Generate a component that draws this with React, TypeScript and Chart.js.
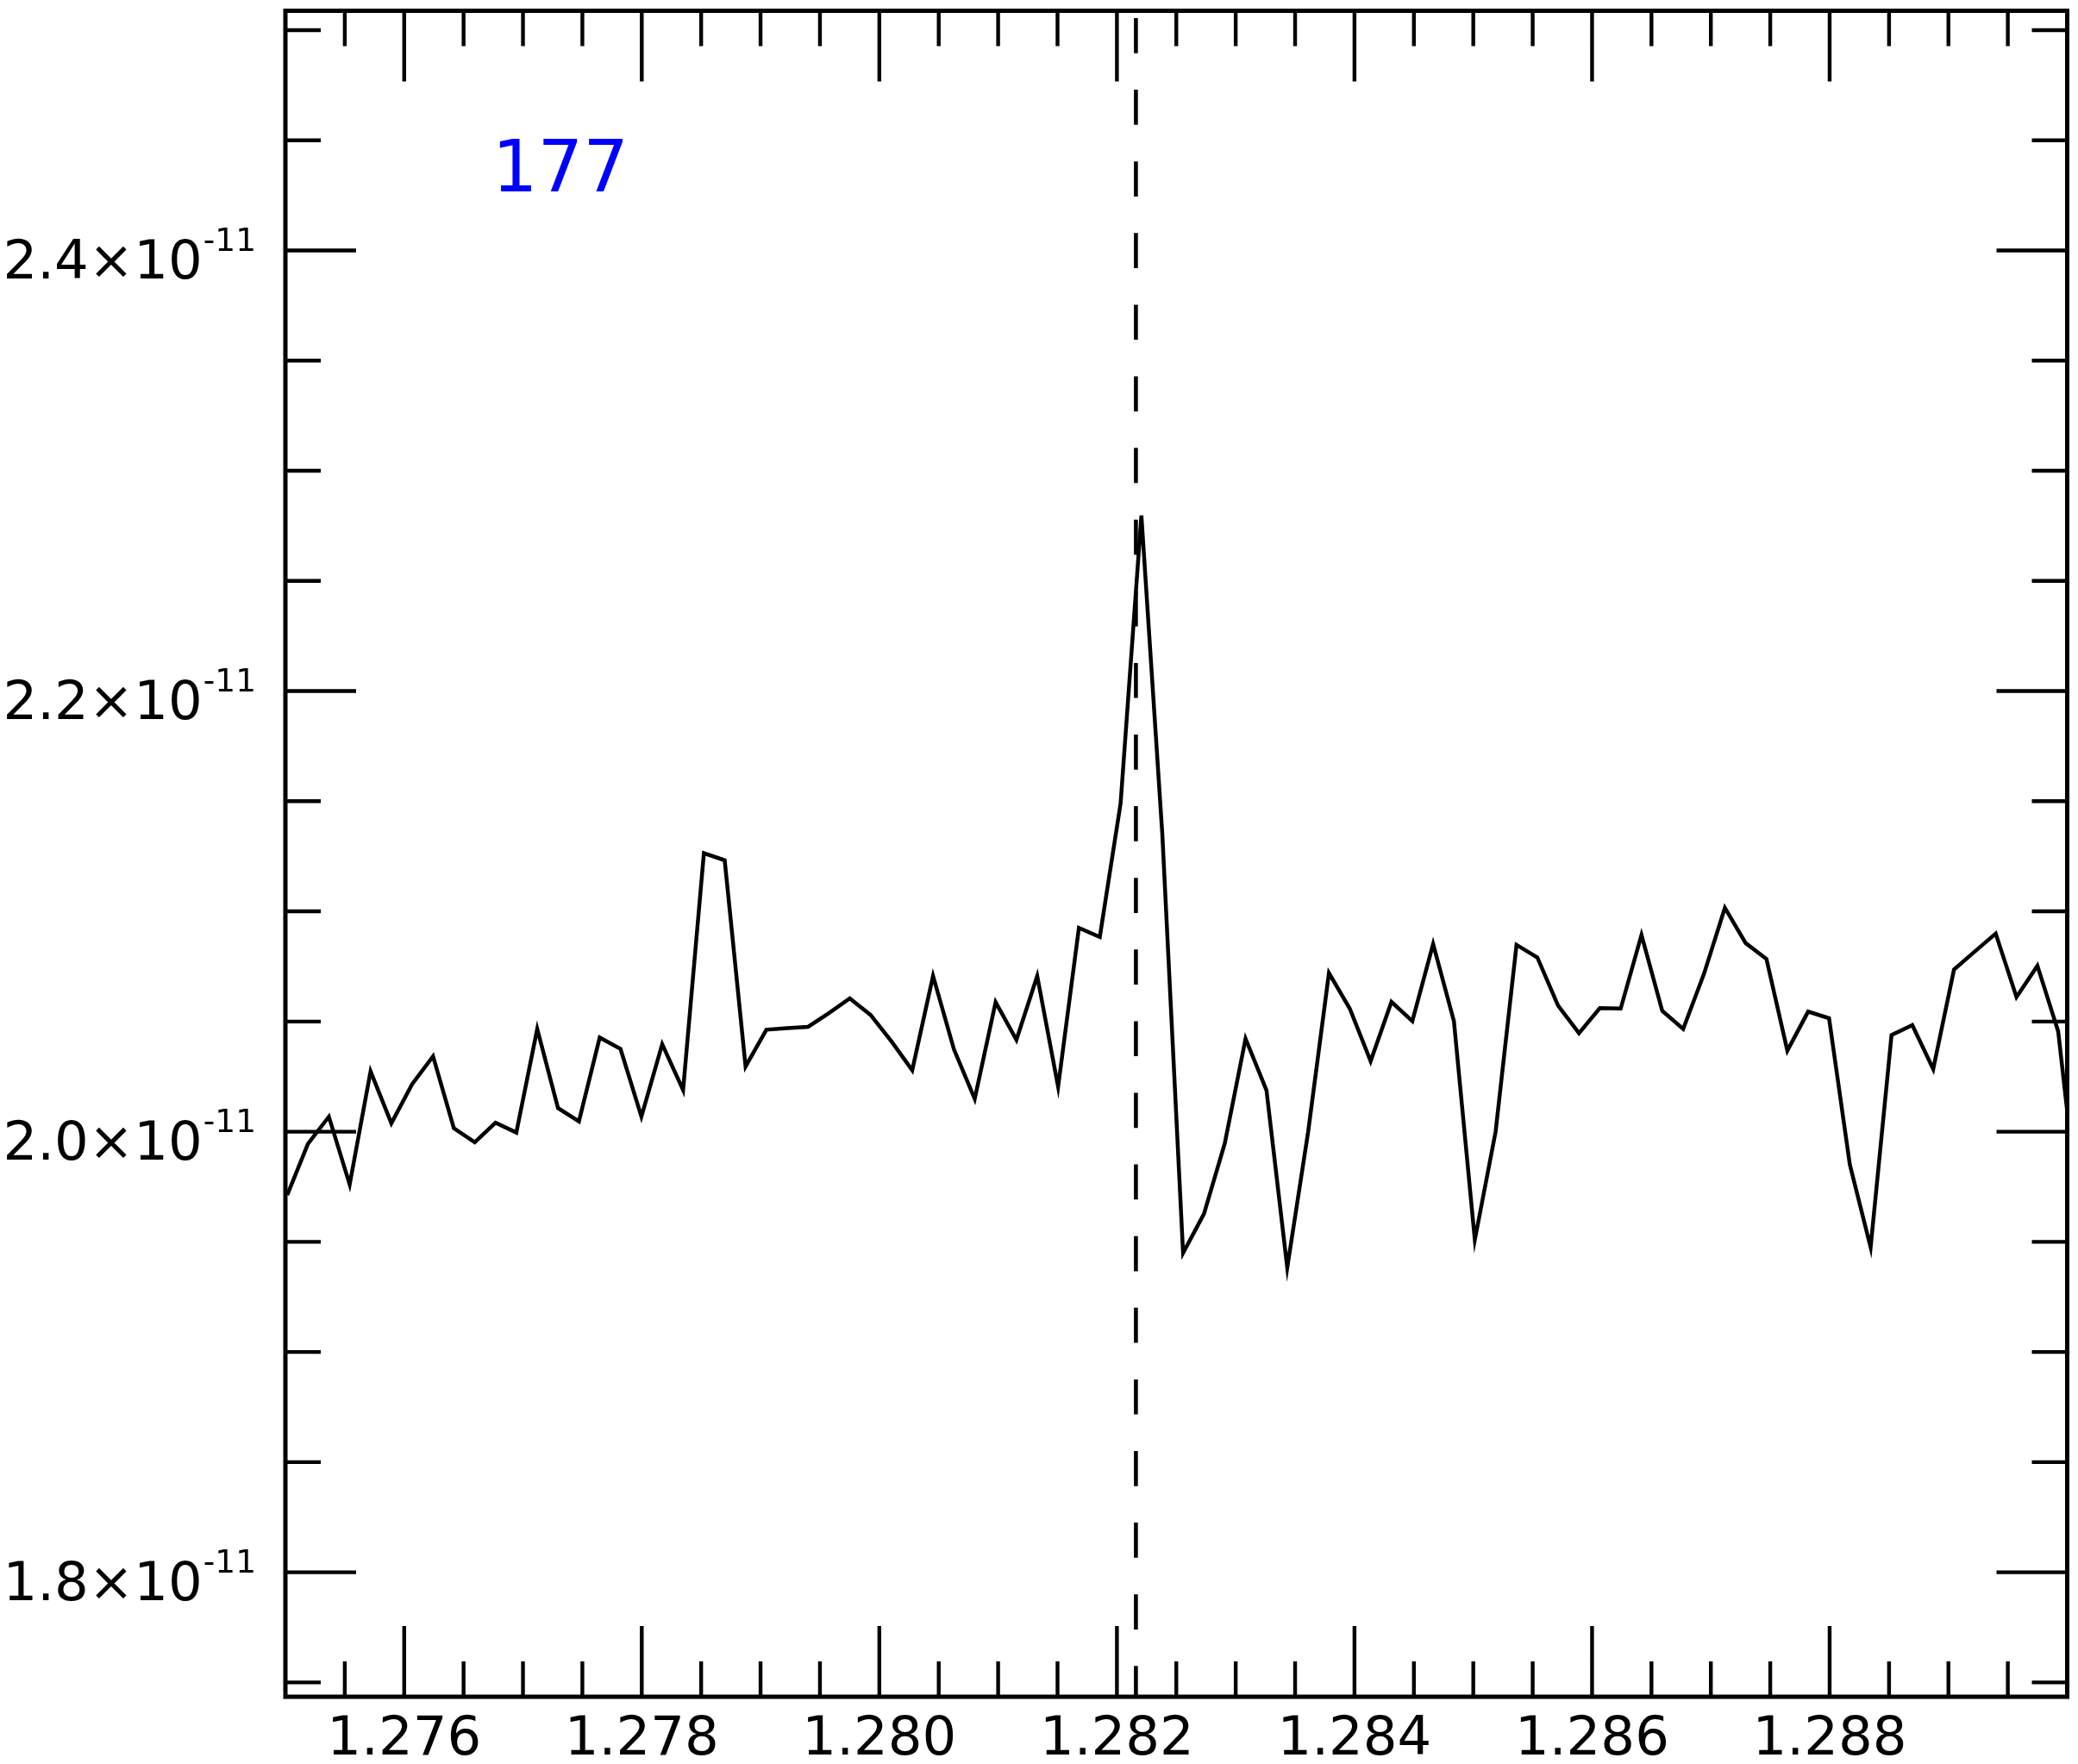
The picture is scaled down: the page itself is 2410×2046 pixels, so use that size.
import React, { useEffect, useRef } from "react";
import { Chart, registerables } from "chart.js";

Chart.register(...registerables);

// Wavelength (micron) of each sample
const wavelengths = [
  1.275015, 1.27519, 1.275366, 1.275541, 1.275717, 1.275892, 1.276067, 1.276243, 1.276418, 1.276594,
  1.276769, 1.276944, 1.27712, 1.277295, 1.277471, 1.277646, 1.277821, 1.277997, 1.278172, 1.278348,
  1.278523, 1.278698, 1.278874, 1.279049, 1.279225, 1.2794, 1.279575, 1.279751, 1.279926, 1.280102,
  1.280277, 1.280452, 1.280628, 1.280803, 1.280979, 1.281154, 1.281329, 1.281505, 1.28168, 1.281856,
  1.282031, 1.282206, 1.282382, 1.282557, 1.282733, 1.282908, 1.283083, 1.283259, 1.283434, 1.28361,
  1.283785, 1.28396, 1.284136, 1.284311, 1.284487, 1.284662, 1.284837, 1.285013, 1.285188, 1.285364,
  1.285539, 1.285714, 1.28589, 1.286065, 1.286241, 1.286416, 1.286591, 1.286767, 1.286942, 1.287118,
  1.287293, 1.287468, 1.287644, 1.287819, 1.287995, 1.28817, 1.288345, 1.288521, 1.288696, 1.288872,
  1.289047, 1.289222, 1.289398, 1.289573, 1.289749, 1.289924, 1.290099,
];

// Flux in units of 1e-11
const fluxE11 = [
  1.9712, 1.9945, 2.0068, 1.976, 2.0274, 2.0038, 2.0216, 2.0342, 2.0016, 1.9952,
  2.0041, 1.9996, 2.0466, 2.0107, 2.0047, 2.0427, 2.0376, 2.0068, 2.0397, 2.0189,
  2.1264, 2.1232, 2.0296, 2.0463, 2.047, 2.0476, 2.0538, 2.0605, 2.053, 2.041,
  2.0279, 2.0707, 2.0374, 2.0149, 2.0588, 2.0417, 2.0707, 2.0204, 2.0925, 2.0884,
  2.149, 2.2797, 2.1352, 1.9449, 1.9627, 1.9947, 2.0422, 2.0188, 1.9383, 2.0,
  2.072, 2.0559, 2.032, 2.0589, 2.0502, 2.0852, 2.0502, 1.9509, 2.0, 2.0848,
  2.0791, 2.0572, 2.0447, 2.0561, 2.0559, 2.0893, 2.0548, 2.0466, 2.0716, 2.1016,
  2.0856, 2.0784, 2.0368, 2.0545, 2.0515, 1.985, 1.9475, 2.0439, 2.0484, 2.0284,
  2.0736, 2.0818, 2.0899, 2.0611, 2.0753, 2.0455, 1.962,
];

const xRange = [1.275, 1.29];
const yRange = [1.7435, 2.5088];

const xMajorTicks = [1.276, 1.278, 1.28, 1.282, 1.284, 1.286, 1.288];
const xMajorLabels = ["1.276", "1.278", "1.280", "1.282", "1.284", "1.286", "1.288"];
const xMinorTicks = [
  1.2755, 1.2765, 1.277, 1.2775, 1.2785, 1.279, 1.2795, 1.2805, 1.281, 1.2815, 1.2825,
  1.283, 1.2835, 1.2845, 1.285, 1.2855, 1.2865, 1.287, 1.2875, 1.2885, 1.289, 1.2895,
];
const yMajorTicks = [1.8, 2.0, 2.2, 2.4];
const yMajorLabels = ["1.8", "2.0", "2.2", "2.4"];
const yExponent = "-11";
const yMinorTicks = [1.75, 1.85, 1.9, 1.95, 2.05, 2.1, 2.15, 2.25, 2.3, 2.35, 2.45, 2.5];

const lineCenter = 1.28216;
const annotationText = "177";
const annotationAt = { x: 1.27674, y: 2.4268 };

const FONT = "'DejaVu Sans', 'Noto Sans', sans-serif";

const framePlugin = {
  id: "mmaFrame",
  beforeDatasetsDraw(chart: any) {
    const { ctx, chartArea: a, scales } = chart;
    const x = scales.x.getPixelForValue(lineCenter);
    ctx.save();
    ctx.strokeStyle = "#000";
    ctx.lineWidth = 4.6;
    ctx.setLineDash([40.7, 42.4]);
    ctx.lineDashOffset = -8.5;
    ctx.beginPath();
    ctx.moveTo(x, a.top);
    ctx.lineTo(x, a.bottom);
    ctx.stroke();
    ctx.restore();
  },
  afterDraw(chart: any) {
    const { ctx, chartArea: a, scales } = chart;
    const sx = scales.x;
    const sy = scales.y;
    const MAJ = 82;
    const MIN = 41;
    ctx.save();
    ctx.strokeStyle = "#000";
    ctx.lineCap = "butt";
    ctx.lineWidth = 4.4;
    ctx.beginPath();
    const xt = (v: number, len: number) => {
      const px = sx.getPixelForValue(v);
      ctx.moveTo(px, a.bottom);
      ctx.lineTo(px, a.bottom - len);
      ctx.moveTo(px, a.top);
      ctx.lineTo(px, a.top + len);
    };
    const yt = (v: number, len: number) => {
      const py = sy.getPixelForValue(v);
      ctx.moveTo(a.left, py);
      ctx.lineTo(a.left + len, py);
      ctx.moveTo(a.right, py);
      ctx.lineTo(a.right - len, py);
    };
    xMajorTicks.forEach((v) => xt(v, MAJ));
    xMinorTicks.forEach((v) => xt(v, MIN));
    yMajorTicks.forEach((v) => yt(v, MAJ));
    yMinorTicks.forEach((v) => yt(v, MIN));
    ctx.stroke();

    // frame
    ctx.lineWidth = 5;
    ctx.lineJoin = "miter";
    ctx.strokeRect(a.left, a.top, a.right - a.left, a.bottom - a.top);

    // x labels
    ctx.fillStyle = "#000";
    ctx.font = `62.5px ${FONT}`;
    ctx.textAlign = "center";
    ctx.textBaseline = "alphabetic";
    xMajorTicks.forEach((v, i) => {
      ctx.fillText(xMajorLabels[i], sx.getPixelForValue(v), a.bottom + 67);
    });

    // y labels with superscript exponent
    const rightEdge = a.left - 35;
    yMajorTicks.forEach((v, i) => {
      const py = sy.getPixelForValue(v);
      const base = `${yMajorLabels[i]}\u00D710`;
      ctx.font = `62.5px ${FONT}`;
      const bw = ctx.measureText(base).width;
      ctx.font = `37.5px ${FONT}`;
      const ew = ctx.measureText(yExponent).width;
      const start = rightEdge - bw - ew;
      ctx.textAlign = "left";
      ctx.font = `62.5px ${FONT}`;
      ctx.fillText(base, start, py + 32.8);
      ctx.font = `37.5px ${FONT}`;
      ctx.fillText(yExponent, start + bw + 1, py + 0.5);
    });

    // annotation
    ctx.fillStyle = "#0000FF";
    ctx.font = `83px ${FONT}`;
    ctx.textAlign = "left";
    ctx.fillText(annotationText, sx.getPixelForValue(annotationAt.x), sy.getPixelForValue(annotationAt.y));
    ctx.restore();
  },
};

export default function App() {
  const ref = useRef<HTMLCanvasElement | null>(null);
  useEffect(() => {
    if (!ref.current) return;
    const chart = new Chart(ref.current, {
      type: "scatter",
      data: {
        datasets: [
          {
            data: wavelengths.map((x, i) => ({ x, y: fluxE11[i] })),
            showLine: true,
            borderColor: "#000",
            borderWidth: 4.5,
            pointRadius: 0,
            pointHoverRadius: 0,
            tension: 0,
            clip: 0,
            fill: false,
          } as any,
        ],
      },
      options: {
        animation: false,
        responsive: false,
        maintainAspectRatio: false,
        devicePixelRatio: 1,
        layout: { padding: { left: 331, right: 12.5, top: 12.5, bottom: 78 } },
        scales: {
          x: { type: "linear", min: xRange[0], max: xRange[1], display: false },
          y: { type: "linear", min: yRange[0], max: yRange[1], display: false },
        },
        plugins: {
          legend: { display: false },
          tooltip: { enabled: false },
        },
        events: [],
      },
      plugins: [framePlugin],
    });
    return () => chart.destroy();
  }, []);
  return (
    <div style={{ position: "absolute", left: 0, top: 0, width: 2410, height: 2046, background: "#fff" }}>
      <canvas ref={ref} width={2410} height={2046} style={{ display: "block", width: 2410, height: 2046 }} />
    </div>
  );
}
